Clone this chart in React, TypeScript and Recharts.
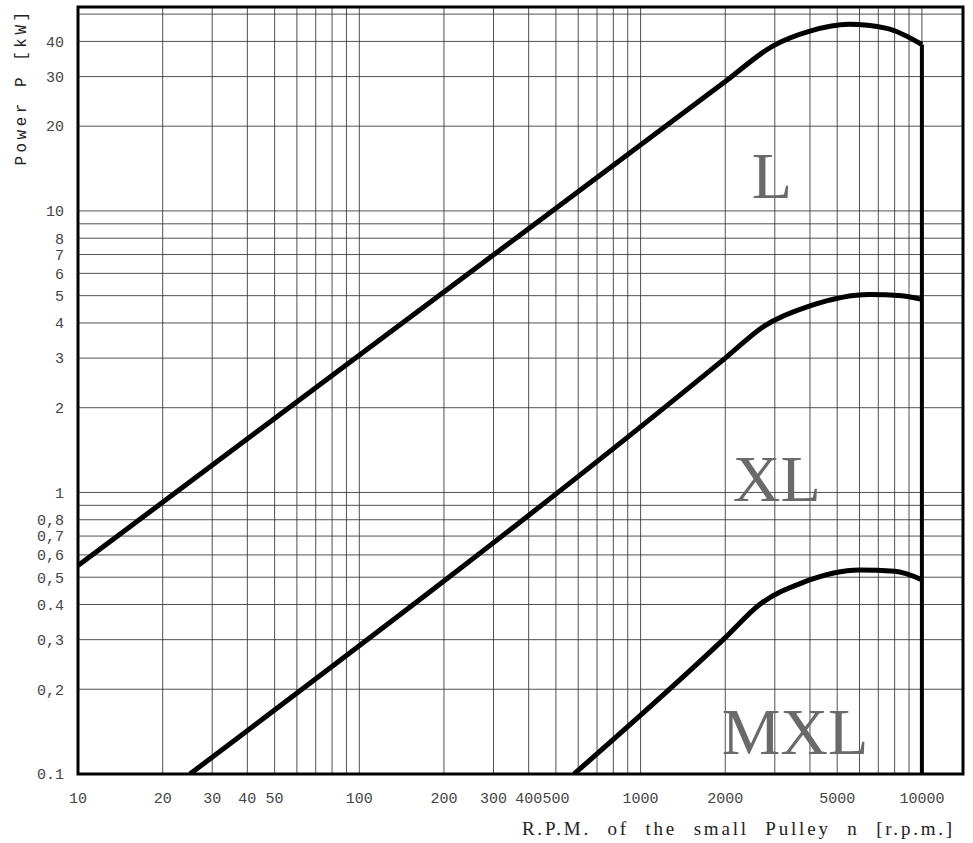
import React from 'react';
import {
  LineChart,
  Line,
  XAxis,
  YAxis,
  CartesianGrid,
  ReferenceArea,
  ReferenceDot,
} from 'recharts';

// belt types
const L_RPM = [10, 2000, 2950, 4000, 5500, 7500, 10000];
const L_KW = [0.55, 28.8, 38.5, 43.5, 46, 44.5, 39];

const XL_RPM = [25, 2000, 2750, 4000, 6500, 8500, 10000];
const XL_KW = [0.1, 3.0, 3.9, 4.6, 5.05, 5.0, 4.85];

const MXL_RPM = [580, 2000, 2650, 3800, 6000, 8000, 10000];
const MXL_KW = [0.1, 0.305, 0.4, 0.48, 0.53, 0.525, 0.49];

// max speed cut-off
const CUT_RPM = [10000, 10000];
const CUT_KW = [39, 0.1];

const RPM_TICKS = [
  10, 20, 30, 40, 50, 60, 70, 80, 90, 100, 200, 300, 400, 500, 600, 700, 800, 900,
  1000, 2000, 3000, 4000, 5000, 6000, 7000, 8000, 9000, 10000,
];
const RPM_LABELS = [10, 20, 30, 40, 50, 100, 200, 300, 400, 500, 1000, 2000, 5000, 10000];

const KW_TICKS = [
  0.1, 0.2, 0.3, 0.4, 0.5, 0.6, 0.7, 0.8, 0.9, 1, 2, 3, 4, 5, 6, 7, 8, 9, 10, 20, 30, 40, 50,
];
const KW_LABELS = [
  '0.1', '0,2', '0,3', '0.4', '0,5', '0,6', '0,7', '0,8', '', '1', '2', '3', '4', '5', '6',
  '7', '8', '', '10', '20', '30', '40', '',
];

// where the type names sit (chart units)
const NAME_TEXT = ['L', 'XL', 'MXL'];
const NAME_RPM = [2930, 3050, 3540];
const NAME_KW = [13.5, 1.13, 0.143];

const toRows = (xs: number[], ys: number[]) => xs.map((n, i) => ({ n, p: ys[i] }));

const tickFont = { fontFamily: 'Liberation Mono', fontSize: 15, fill: '#444' };

export default function App() {
  const series = [
    { key: 'L', rows: toRows(L_RPM, L_KW) },
    { key: 'XL', rows: toRows(XL_RPM, XL_KW) },
    { key: 'MXL', rows: toRows(MXL_RPM, MXL_KW) },
  ];

  return (
    <div style={{ position: 'absolute', left: 0, top: 0, background: '#fff' }}>
      <LineChart width={973} height={843} margin={{ top: 7, right: 10, left: 0, bottom: 0 }}>
        <CartesianGrid stroke="#333" strokeWidth={1} strokeOpacity={0.85} />
        <XAxis
          dataKey="n"
          type="number"
          scale="log"
          domain={[10, 14000]}
          allowDataOverflow
          ticks={RPM_TICKS}
          interval={0}
          height={69}
          tickSize={0}
          tickMargin={18}
          axisLine={false}
          tick={tickFont}
          tickFormatter={(v: number) => (RPM_LABELS.includes(v) ? String(v) : '')}
          label={{
            value: 'R.P.M. of the small Pulley n [r.p.m.]',
            position: 'insideBottomRight',
            offset: 8,
            style: {
              fontFamily: 'Liberation Serif',
              fontSize: 19,
              letterSpacing: 2.8,
              wordSpacing: 9,
              fill: '#222',
            },
          }}
        />
        <YAxis
          dataKey="p"
          type="number"
          scale="log"
          domain={[0.1, 53]}
          allowDataOverflow
          ticks={KW_TICKS}
          interval={0}
          width={78}
          tickSize={0}
          tickMargin={14}
          axisLine={false}
          tick={tickFont}
          tickFormatter={(v: number) => KW_LABELS[KW_TICKS.indexOf(v)] ?? ''}
          label={{
            content: (props: any) => {
              const vb = props.viewBox || { x: 0, y: 7 };
              const cx = vb.x + 22;
              const cy = vb.y + 80;
              return (
                <text
                  x={cx}
                  y={cy}
                  transform={`rotate(-90, ${cx}, ${cy})`}
                  textAnchor="middle"
                  dominantBaseline="central"
                  fontFamily="Liberation Mono"
                  fontSize={16}
                  letterSpacing={3.5}
                  fill="#222"
                >
                  Power P [kW]
                </text>
              );
            },
          }}
        />
        <ReferenceArea
          x1={10}
          x2={14000}
          y1={0.1}
          y2={53}
          fill="none"
          stroke="#000"
          strokeWidth={3}
          ifOverflow="visible"
        />
        {series.map((s) => (
          <Line
            key={s.key}
            data={s.rows}
            dataKey="p"
            type="monotone"
            stroke="#000"
            strokeWidth={5}
            dot={false}
            isAnimationActive={false}
          />
        ))}
        <Line
          data={toRows(CUT_RPM, CUT_KW)}
          dataKey="p"
          type="linear"
          stroke="#000"
          strokeWidth={4}
          dot={false}
          isAnimationActive={false}
        />
        {NAME_TEXT.map((t, i) => (
          <ReferenceDot
            key={t}
            x={NAME_RPM[i]}
            y={NAME_KW[i]}
            r={0}
            fill="none"
            stroke="none"
            label={{
              value: t,
              position: 'center',
              style: {
                fontFamily: 'Liberation Serif',
                fontSize: 66,
                fill: '#6a6a6a',
              },
            }}
          />
        ))}
      </LineChart>
    </div>
  );
}
